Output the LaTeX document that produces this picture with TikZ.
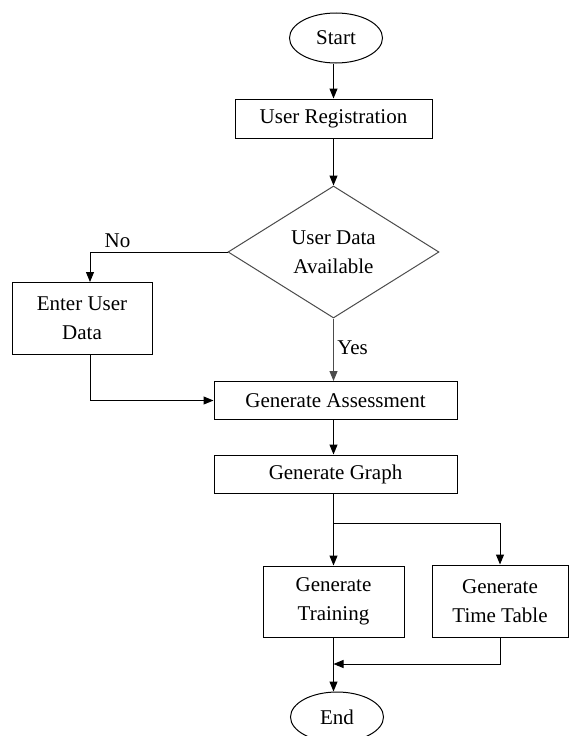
\documentclass[tikz,border=0pt]{standalone}
\usepackage{fontspec}
\setmainfont{Liberation Serif}
\usetikzlibrary{shapes.geometric,arrows.meta}

\begin{document}
\begin{tikzpicture}[x=1pt, y=-1pt,
	every node/.style={font=\fontsize{21}{29}\selectfont, line width=1pt},
	terminal/.style={draw, ellipse, minimum width=93pt, minimum height=50pt, inner sep=0pt},
	process/.style={draw, rectangle, align=center, inner sep=0pt},
	decision/.style={draw=black!70, diamond, aspect=1.6, inner sep=0pt, align=center, minimum width=211pt, minimum height=132pt},
	arr/.style={-{Triangle[length=10pt,width=8pt]}, line width=1pt},
	line/.style={line width=1pt}]
	\useasboundingbox (0,0) rectangle (569,736);
	\node[terminal] (start) at (336,38) {Start};
	\node[process, minimum width=197pt, minimum height=39pt] (reg) at (333.5,118.5) {User Registration};
	\node[decision] (avail) at (333.5,252) {User Data\\Available};
	\node[process, minimum width=140pt, minimum height=72pt] (enter) at (82,318) {Enter User\\Data};
	\node[process, minimum width=243pt, minimum height=38pt] (assess) at (335.5,400.5) {Generate Assessment};
	\node[process, minimum width=243pt, minimum height=38pt] (graph) at (335.5,474) {Generate Graph};
	\node[process, minimum width=141pt, minimum height=71pt] (train) at (333.5,601.5) {Generate\\Training};
	\node[process, minimum width=136pt, minimum height=72pt] (ttable) at (500,601) {Generate\\Time Table};
	\node[terminal] (finish) at (337,717) {End};
	\coordinate (nodrop) at (90,282);
	\coordinate (split) at (333.5,523);
	\coordinate (merge) at (333.5,664);

	\draw[arr] (start.south -| reg.north) -- (reg.north);
	\draw[arr] (reg.south) -- (avail.north);
	\draw[arr] (avail.west) -| node[pos=0.4, above] {No} (nodrop);
	\draw[arr, draw=black!70] (avail.south) -- node[pos=0.47, right, text=black] {Yes} (avail.south |- assess.north);
	\draw[arr] (nodrop |- enter.south) |- (assess.west);
	\draw[arr] (assess.south -| avail.south) -- (avail.south |- graph.north);
	\draw[line] (graph.south -| split) -- (split);
	\draw[arr] (split) -- (train.north);
	\draw[arr] (split) -| (ttable.north);
	\draw[arr] (train.south) -- (train.south |- finish.north);
	\draw[arr] (ttable.south) |- (merge);
\end{tikzpicture}
\end{document}
